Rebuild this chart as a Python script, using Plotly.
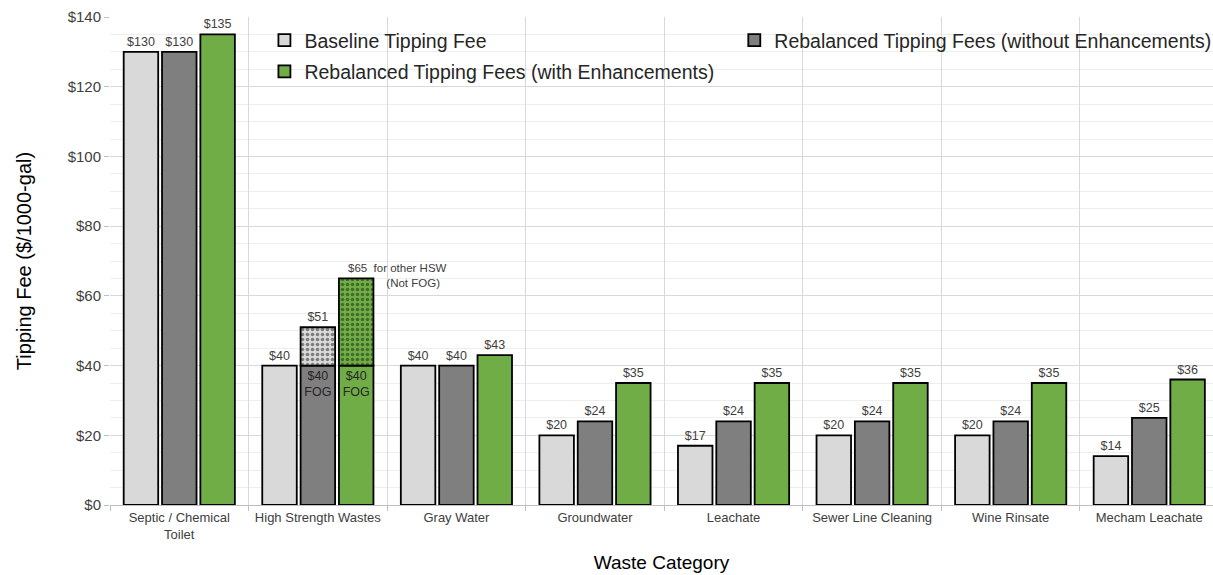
import plotly.graph_objects as go

categories = ["Septic / Chemical<br>Toilet", "High Strength Wastes", "Gray Water", "Groundwater",
              "Leachate", "Sewer Line Cleaning", "Wine Rinsate", "Mecham Leachate"]
baseline = [130, 40, 40, 20, 17, 20, 20, 14]
without_enh = [130, 40, 40, 24, 24, 24, 24, 25]
with_enh = [135, 40, 43, 35, 35, 35, 35, 36]

# High Strength Wastes: FOG rate for the lower block, total for other HSW on top
hsw_cat = "High Strength Wastes"
hsw_without_total = 51
hsw_with_total = 65
hsw_fog = 40

LIGHT = "#d9d9d9"
DARK = "#7f7f7f"
GREEN = "#70ad47"
LABEL = "#404040"
OUTLINE = dict(color="#000000", width=1.8)
FONT = "Liberation Sans"

def labels(vals, inside_cat=None, suffix="<br>FOG"):
    txt, pos = [], []
    for c, v in zip(categories, vals):
        if c == inside_cat:
            txt.append(f"${v}{suffix}")
            pos.append("inside")
        else:
            txt.append(f"${v}")
            pos.append("outside")
    return txt, pos

fig = go.Figure()

t, p = labels(baseline)
fig.add_bar(x=categories, y=baseline, name="Baseline Tipping Fee", offsetgroup="a",
            marker=dict(color=LIGHT, line=OUTLINE), text=t, textposition=p,
            legend="legend", legendgroup="base", legendrank=1)

t, p = labels(without_enh, hsw_cat)
fig.add_bar(x=categories, y=without_enh, name="Rebalanced Tipping Fees (without Enhancements)",
            offsetgroup="b", marker=dict(color=DARK, line=OUTLINE), text=t, textposition=p,
            insidetextanchor="end", legend="legend2")

t, p = labels(with_enh, hsw_cat)
fig.add_bar(x=categories, y=with_enh, name="Rebalanced Tipping Fees (with Enhancements)",
            offsetgroup="c", marker=dict(color=GREEN, line=OUTLINE), text=t, textposition=p,
            insidetextanchor="end", legend="legend", legendgroup="with", legendrank=2)

# stacked "other HSW" portions above the FOG rate
fig.add_bar(x=[hsw_cat], y=[hsw_without_total - hsw_fog], base=[hsw_fog], offsetgroup="b",
            marker=dict(color=LIGHT, line=OUTLINE,
                        pattern=dict(shape=".", fgcolor="#202020", size=5, solidity=0.4)),
            text=[f"${hsw_without_total}"], textposition="outside", showlegend=False)
fig.add_bar(x=[hsw_cat], y=[hsw_with_total - hsw_fog], base=[hsw_fog], offsetgroup="c",
            marker=dict(color=GREEN, line=OUTLINE,
                        pattern=dict(shape=".", fgcolor="#142a08", size=5, solidity=0.4)),
            showlegend=False)

fig.update_traces(textfont=dict(family=FONT, size=12.5, color=LABEL),
                  insidetextfont=dict(family=FONT, size=12.5, color="#262626"),
                  outsidetextfont=dict(family=FONT, size=12.5, color=LABEL),
                  constraintext="none", cliponaxis=False, selector=dict(type="bar"))

fig.add_annotation(x=hsw_cat, y=hsw_with_total, xshift=28, yshift=3,
                   xanchor="left", yanchor="middle",
                   text=f"${hsw_with_total}  for other HSW<br>            (Not FOG)", showarrow=False,
                   align="left", font=dict(family=FONT, size=11.5, color=LABEL))

fig.update_layout(
    width=1213, height=575,
    margin=dict(l=110, r=0, t=17, b=70, autoexpand=False),
    plot_bgcolor="white", paper_bgcolor="white",
    barmode="group", bargap=0.17, bargroupgap=0.1,
    font=dict(family=FONT, color="#262626"),
    legend=dict(x=0.14, y=0.992, xanchor="left", yanchor="top", bgcolor="rgba(0,0,0,0)",
                font=dict(size=19.5, color="#262626"), tracegroupgap=3, traceorder="grouped"),
    legend2=dict(x=0.566, y=0.992, xanchor="left", yanchor="top", bgcolor="rgba(0,0,0,0)",
                 font=dict(size=19.5, color="#262626")),
)

fig.update_xaxes(
    range=[-0.5, 7.46], tickson="boundaries", ticks="outside", ticklen=5, tickcolor="#bfbfbf",
    showgrid=True, gridcolor="#d9d9d9", gridwidth=1,
    showline=True, linecolor="#bfbfbf", linewidth=1,
    tickfont=dict(size=13, color=LABEL),
    title=dict(text="Waste Category", font=dict(size=19, color="#000000"), standoff=15),
)
fig.update_yaxes(
    range=[0, 140], dtick=20, tickprefix="$", ticks="outside", ticklen=5, tickcolor="#bfbfbf",
    showgrid=True, gridcolor="#d9d9d9", gridwidth=1, zeroline=False,
    minor=dict(dtick=5, showgrid=True, gridcolor="#eeeeee", gridwidth=1, ticks=""),
    tickfont=dict(size=15, color=LABEL),
    title=dict(text="Tipping Fee ($/1000-gal)", font=dict(size=20, color="#000000"), standoff=30),
)

fig.write_html("out.html")
